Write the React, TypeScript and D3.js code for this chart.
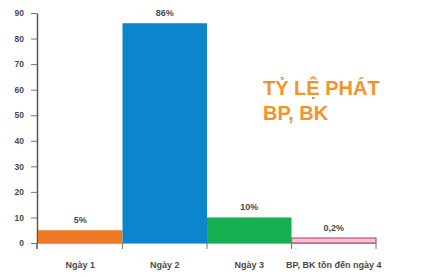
import React, { useEffect, useRef } from "react";
import * as d3 from "d3";

const categories = ["Ngày 1", "Ngày 2", "Ngày 3", "BP, BK tồn đến ngày 4"];
const values = [5, 86, 10, 0.2];
const valueLabels = ["5%", "86%", "10%", "0,2%"];
const yTicks = [0, 10, 20, 30, 40, 50, 60, 70, 80, 90];
const titleLines = ["TỶ LỆ PHÁT", "BP, BK"];

const barFill = ["#ef7a26", "#0b85cb", "#16ae4f", "#f3c3d4"];
const barStroke = ["none", "none", "none", "#c45a83"];

const width = 422;
const height = 277;
const margin = { top: 13, right: 46, bottom: 34, left: 38 };

export default function App() {
  const svgRef = useRef<SVGSVGElement>(null);

  useEffect(() => {
    const svg = d3.select(svgRef.current);
    svg.selectAll("*").remove();

    const x = d3
      .scaleBand()
      .domain(categories)
      .range([margin.left, width - margin.right])
      .padding(0);

    const y = d3
      .scaleLinear()
      .domain([0, 90])
      .range([height - margin.bottom, margin.top]);

    const font = "'Liberation Sans', Arial, sans-serif";

    // y axis
    const yAxis = svg
      .append("g")
      .attr("transform", `translate(${margin.left - 1},0)`)
      .call(d3.axisLeft(y).tickValues(yTicks).tickSize(6).tickSizeOuter(0).tickPadding(7));
    yAxis.select(".domain").attr("stroke", "#555").attr("stroke-width", 1.5);
    yAxis.selectAll(".tick line").attr("stroke", "#777");
    yAxis
      .selectAll("text")
      .attr("font-family", font)
      .attr("font-size", 8.5)
      .attr("font-weight", "bold")
      .attr("fill", "#4a4a4a");
    // axis runs a bit below zero
    svg
      .append("line")
      .attr("x1", margin.left - 1)
      .attr("x2", margin.left - 1)
      .attr("y1", y(0))
      .attr("y2", y(0) + 6)
      .attr("stroke", "#555")
      .attr("stroke-width", 1.5);

    // x axis line + boundary ticks
    svg
      .append("line")
      .attr("x1", margin.left)
      .attr("x2", width - margin.right)
      .attr("y1", y(0) + 0.5)
      .attr("y2", y(0) + 0.5)
      .attr("stroke", "#aaa");
    svg
      .append("g")
      .selectAll("line")
      .data(categories)
      .join("line")
      .attr("x1", (d) => (x(d) as number) + x.bandwidth())
      .attr("x2", (d) => (x(d) as number) + x.bandwidth())
      .attr("y1", y(0))
      .attr("y2", y(0) + 6)
      .attr("stroke", "#777");

    // bars (tiny values get a minimum visible height)
    const barTop = (d: number) => Math.min(y(d), y(0) - 5);
    svg
      .append("g")
      .selectAll("rect")
      .data(values)
      .join("rect")
      .attr("x", (d, i) => x(categories[i]) as number)
      .attr("width", x.bandwidth())
      .attr("y", (d) => barTop(d))
      .attr("height", (d) => y(0) - barTop(d))
      .attr("fill", (d, i) => barFill[i])
      .attr("stroke", (d, i) => barStroke[i])
      .attr("stroke-width", 1.3);

    // value labels
    svg
      .append("g")
      .selectAll("text")
      .data(values)
      .join("text")
      .attr("x", (d, i) => (x(categories[i]) as number) + x.bandwidth() / 2)
      .attr("y", (d) => barTop(d) - 7)
      .attr("text-anchor", "middle")
      .attr("font-family", font)
      .attr("font-size", 9)
      .attr("font-weight", "bold")
      .attr("fill", "#4a4a4a")
      .text((d, i) => valueLabels[i]);

    // category labels
    svg
      .append("g")
      .selectAll("text")
      .data(categories)
      .join("text")
      .attr("x", (d) => (x(d) as number) + x.bandwidth() / 2)
      .attr("y", y(0) + 25)
      .attr("text-anchor", "middle")
      .attr("font-family", font)
      .attr("font-size", 9)
      .attr("font-weight", "bold")
      .attr("fill", "#4a4a4a")
      .text((d) => d);

    // title block
    svg
      .append("g")
      .selectAll("text")
      .data(titleLines)
      .join("text")
      .attr("x", 263)
      .attr("y", (d, i) => 95 + i * 25)
      .attr("font-family", font)
      .attr("font-size", 20)
      .attr("font-weight", "bold")
      .attr("fill", "#f5922a")
      .text((d) => d);
  }, []);

  return (
    <svg
      ref={svgRef}
      width={width}
      height={height}
      style={{ position: "absolute", left: 0, top: 0, background: "#fff" }}
    ></svg>
  );
}
